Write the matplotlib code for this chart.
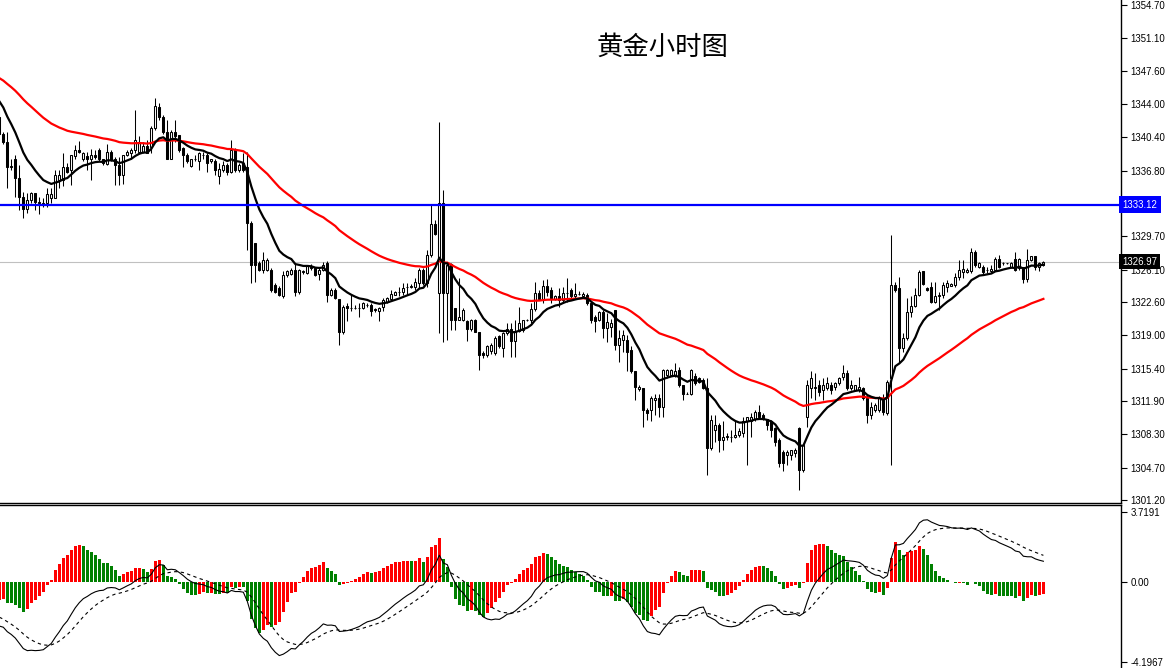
import numpy as np
import matplotlib
matplotlib.use("Agg")
import matplotlib.pyplot as plt

# ---------------- data (hourly gold candles) ----------------
opens = [1342.6,1340.8,1339.9,1337.2,1338.1,1336.0,1334.0,1332.7,1333.6,1334.35,1333.4,1333.35,1333.3,1333.8,1333.8,1335.8,1335.8,1337.2,1336.9,1338.4,
1339.0,1338.1,1338.4,1338.0,1338.5,1339.0,1338.1,1337.5,1338.85,1338.0,1337.4,1336.3,1338.5,1338.7,1339.0,1338.85,1338.85,1339.5,1339.4,1341.4,
1343.7,1342.6,1341.0,1338.1,1341.0,1340.65,1339.2,1338.5,1337.3,1338.0,1337.8,1338.5,1338.5,1337.8,1337.8,1336.2,1336.9,1337.4,1336.7,1339.1,
1336.9,1337.6,1337.2,1331.1,1328.95,1326.8,1326.1,1326.1,1326.1,1324.45,1324.1,1323.2,1325.5,1325.6,1326.1,1323.7,1325.8,1325.7,1326.5,1326.25,
1325.6,1326.1,1326.8,1323.4,1323.9,1322.9,1319.3,1322.2,1322.0,1322.0,1322.0,1322.0,1322.3,1322.3,1321.8,1321.6,1322.1,1322.65,1322.9,1323.4,
1323.7,1323.7,1324.25,1324.25,1324.25,1324.7,1326.1,1324.6,1327.7,1331.0,1323.55,1333.27,1323.55,1326.7,1321.9,1320.7,1320.7,1320.5,1319.7,1320.7,
1319.4,1317.07,1316.9,1317.25,1317.07,1318.9,1317.6,1319.2,1319.7,1318.4,1319.5,1319.6,1320.6,1320.7,1321.8,1323.6,1322.8,1324.3,1323.9,1322.9,
1323.2,1322.76,1323.6,1323.9,1323.25,1323.5,1323.25,1323.4,1322.5,1321.0,1320.7,1321.5,1319.75,1319.9,1321.7,1317.95,1318.5,1318.5,1317.4,1315.1,
1313.2,1313.3,1310.9,1310.9,1312.0,1312.2,1311.3,1314.7,1314.7,1314.6,1315.25,1313.6,1312.7,1312.7,1314.6,1314.35,1314.2,1313.3,1306.8,1308.8,
1309.3,1307.7,1308.05,1308.05,1308.05,1308.25,1308.4,1309.7,1309.7,1310.0,1310.75,1310.4,1309.9,1309.7,1309.0,1307.7,1306.4,1306.1,1306.1,1306.25,
1309.0,1304.45,1310.2,1313.3,1313.3,1313.6,1313.1,1313.3,1313.6,1313.45,1313.8,1314.5,1314.9,1313.3,1313.1,1313.1,1313.3,1312.2,1310.4,1310.9,
1310.9,1312.0,1310.6,1314.36,1324.4,1324.1,1317.6,1318.7,1321.56,1322.2,1323.36,1325.9,1324.1,1324.26,1322.64,1323.2,1323.36,1324.26,1324.37,1324.4,
1325.3,1325.8,1325.8,1325.9,1328.04,1326.4,1326.4,1326.06,1325.9,1326.06,1327.2,1326.8,1326.8,1326.4,1327.2,1326.24,1326.4,1325.05,1327.14,1327.57,
1326.4,1326.6]
highs = [1343.35,1341.0,1341.0,1338.0,1338.5,1337.4,1334.5,1334.35,1334.5,1334.4,1334.0,1333.8,1334.9,1334.9,1336.9,1336.9,1338.7,1337.6,1338.5,1339.6,
1340.0,1338.85,1338.85,1339.1,1339.0,1339.2,1338.1,1339.7,1339.0,1338.3,1338.3,1338.5,1339.0,1339.2,1343.35,1340.5,1339.9,1340.1,1341.6,1344.6,
1344.07,1342.8,1342.3,1341.2,1342.3,1340.65,1339.4,1338.7,1338.1,1338.5,1338.85,1338.85,1338.7,1338.1,1338.0,1337.6,1337.8,1337.6,1340.1,1339.2,
1337.6,1338.7,1338.85,1331.3,1329.0,1327.0,1328.05,1327.3,1326.25,1324.6,1324.3,1325.9,1326.1,1326.3,1326.8,1326.2,1326.1,1326.6,1326.7,1326.4,
1326.4,1326.9,1327.0,1324.1,1324.1,1322.9,1322.3,1322.5,1323.5,1322.3,1322.5,1322.6,1322.5,1322.5,1322.0,1322.1,1323.0,1323.1,1323.9,1323.8,
1324.25,1324.6,1324.7,1324.5,1325.2,1326.25,1326.3,1328.2,1333.1,1331.5,1342.1,1334.7,1326.8,1326.8,1322.0,1325.2,1321.9,1320.7,1320.8,1320.8,
1319.4,1317.3,1318.0,1318.2,1318.9,1319.0,1319.4,1320.3,1320.3,1320.7,1322.1,1320.7,1320.8,1322.5,1324.8,1323.9,1325.0,1325.06,1324.25,1323.4,
1324.1,1324.25,1325.2,1324.1,1324.6,1323.8,1323.7,1323.6,1322.65,1321.2,1321.6,1321.7,1321.4,1320.8,1321.7,1319.6,1319.6,1319.0,1317.8,1315.1,
1313.6,1313.3,1311.1,1312.4,1312.7,1312.7,1315.4,1315.4,1315.4,1316.0,1315.6,1313.6,1312.9,1315.4,1314.9,1314.5,1314.4,1314.35,1310.4,1310.4,
1309.5,1309.7,1308.4,1308.8,1309.7,1309.0,1310.2,1310.2,1310.6,1310.9,1311.5,1310.6,1310.0,1309.85,1309.1,1307.9,1306.6,1306.6,1306.6,1306.8,
1309.1,1307.3,1314.2,1315.1,1314.9,1314.2,1314.35,1314.5,1314.0,1314.0,1314.5,1315.8,1315.25,1314.2,1313.6,1314.5,1313.45,1312.55,1311.8,1311.65,
1312.4,1312.7,1314.2,1329.8,1324.8,1325.3,1319.2,1323.0,1323.2,1324.1,1326.06,1325.9,1324.2,1324.8,1324.8,1323.7,1324.8,1325.0,1324.7,1325.7,
1327.14,1327.14,1326.3,1328.4,1328.2,1326.96,1326.6,1326.4,1326.6,1327.5,1327.7,1326.96,1326.85,1326.9,1328.04,1327.3,1326.4,1328.3,1327.6,1327.57,
1326.96,1327.0]
lows = [1340.5,1339.7,1334.9,1336.9,1334.0,1332.55,1331.65,1332.2,1333.3,1332.55,1332.1,1332.9,1332.9,1333.3,1333.8,1334.9,1335.1,1336.5,1335.25,1338.1,
1338.7,1337.8,1336.9,1335.8,1338.0,1337.8,1337.4,1337.4,1337.8,1335.25,1335.25,1335.4,1338.4,1338.0,1338.7,1338.7,1338.7,1338.7,1338.7,1341.2,
1342.3,1340.8,1338.0,1338.0,1339.9,1338.85,1337.2,1337.6,1337.2,1337.8,1336.9,1338.1,1336.7,1337.6,1336.3,1335.4,1336.7,1336.3,1336.5,1336.7,
1336.7,1336.7,1328.2,1324.6,1324.8,1325.9,1325.7,1325.9,1323.7,1323.55,1323.2,1323.0,1325.3,1325.5,1323.2,1323.5,1325.6,1325.6,1326.1,1325.4,
1325.0,1325.9,1322.65,1323.2,1322.9,1318.0,1319.1,1320.5,1321.6,1321.8,1321.0,1321.8,1322.1,1321.1,1321.5,1320.5,1321.6,1322.5,1322.8,1323.3,
1323.2,1323.4,1323.4,1324.1,1323.9,1324.1,1324.4,1324.25,1327.5,1329.8,1319.2,1318.3,1318.5,1319.6,1319.6,1320.6,1320.5,1318.4,1319.5,1319.3,
1315.3,1316.5,1316.7,1317.0,1316.9,1317.6,1316.7,1319.05,1316.7,1316.7,1319.4,1319.4,1320.5,1320.3,1321.6,1322.8,1322.5,1323.2,1322.5,1322.8,
1322.1,1322.5,1322.65,1323.0,1323.0,1323.3,1323.1,1322.3,1320.3,1319.4,1320.5,1318.7,1318.3,1318.85,1317.4,1316.15,1317.2,1315.1,1314.9,1312.0,
1313.0,1309.1,1309.85,1309.7,1310.4,1310.2,1310.2,1314.35,1314.6,1314.5,1313.45,1312.0,1312.6,1312.55,1313.6,1313.8,1313.2,1303.9,1306.6,1307.5,
1306.4,1306.6,1307.7,1307.5,1307.9,1308.05,1308.05,1305.0,1308.05,1309.7,1310.0,1309.8,1308.8,1308.05,1307.0,1304.8,1304.3,1305.0,1305.5,1305.8,
1302.3,1304.2,1309.1,1312.2,1312.0,1312.4,1312.0,1313.1,1312.7,1313.1,1313.6,1314.2,1313.1,1313.1,1313.0,1312.9,1312.0,1309.5,1310.0,1310.75,
1310.7,1310.4,1310.4,1305.0,1323.7,1316.0,1317.2,1318.5,1321.0,1322.1,1323.2,1324.4,1323.8,1322.46,1322.46,1321.7,1323.0,1323.7,1324.3,1324.26,
1325.0,1325.16,1325.7,1325.7,1326.4,1326.24,1325.5,1325.7,1325.7,1325.9,1326.24,1326.6,1326.75,1326.3,1325.9,1326.1,1324.6,1324.8,1327.0,1326.06,
1325.9,1326.5]
closes = [1340.8,1339.9,1337.2,1337.3,1336.0,1334.0,1332.7,1333.6,1334.4,1333.45,1333.3,1333.1,1334.3,1334.3,1336.3,1336.3,1337.2,1336.7,1338.5,1339.0,
1338.85,1338.7,1338.0,1338.5,1338.3,1338.0,1337.6,1338.85,1337.9,1337.4,1336.3,1338.5,1338.85,1339.0,1340.1,1339.9,1339.5,1338.7,1341.4,1343.8,
1342.6,1341.0,1338.1,1341.0,1340.5,1339.0,1338.5,1337.8,1338.0,1338.1,1338.7,1338.5,1337.6,1338.0,1336.9,1337.0,1337.4,1336.7,1339.0,1336.9,
1337.4,1336.9,1331.1,1326.6,1326.6,1326.1,1327.15,1327.15,1323.9,1323.7,1323.4,1325.5,1325.9,1326.1,1323.7,1326.1,1325.9,1326.5,1326.25,1325.5,
1326.1,1326.6,1323.4,1323.9,1323.0,1319.3,1322.1,1321.9,1322.0,1322.0,1322.0,1322.5,1322.3,1321.6,1321.75,1321.9,1322.8,1323.0,1323.5,1323.7,
1323.7,1324.1,1324.25,1324.3,1324.8,1326.1,1324.6,1327.7,1331.0,1329.96,1333.27,1323.55,1326.6,1320.7,1320.7,1321.0,1321.75,1319.7,1320.7,1319.4,
1316.9,1316.9,1317.8,1318.0,1318.7,1317.8,1319.2,1319.7,1318.4,1319.5,1320.3,1320.6,1320.7,1321.8,1323.6,1322.9,1324.3,1323.7,1323.0,1323.25,
1322.76,1323.6,1323.6,1323.25,1323.5,1323.5,1323.5,1322.5,1320.7,1320.5,1321.5,1319.75,1320.4,1320.3,1317.95,1318.7,1319.0,1317.2,1315.1,1313.4,
1313.45,1310.9,1310.6,1312.2,1312.2,1311.3,1315.25,1315.25,1315.25,1315.1,1313.6,1312.7,1312.7,1315.25,1313.8,1314.0,1313.3,1306.8,1309.85,1309.3,
1307.7,1308.05,1308.1,1308.0,1308.25,1308.6,1309.7,1310.2,1310.2,1310.75,1310.2,1309.9,1309.3,1308.8,1307.5,1305.2,1305.2,1306.4,1306.6,1306.6,
1304.45,1307.15,1313.6,1314.35,1313.45,1312.9,1313.6,1313.8,1313.1,1313.8,1314.35,1314.9,1313.3,1313.6,1313.6,1313.45,1312.2,1310.4,1311.3,1311.5,
1312.2,1310.76,1314.0,1324.4,1323.9,1317.6,1318.7,1321.56,1322.2,1323.36,1325.8,1324.55,1323.9,1322.64,1323.2,1323.36,1324.4,1324.6,1324.55,1325.3,
1326.06,1326.13,1326.06,1328.04,1326.6,1326.8,1325.8,1326.06,1326.13,1327.2,1326.4,1326.8,1326.8,1326.8,1326.06,1327.2,1325.05,1327.14,1327.57,1326.4,
1326.8,1326.97]

hline_price = 1333.12
price_ticks = [1354.70, 1351.10, 1347.60, 1344.00, 1340.40, 1336.80, 1329.70,
               1326.10, 1322.60, 1319.00, 1315.40, 1311.90, 1308.30, 1304.70, 1301.20]
macd_ticks = [3.7191, 0.0, -4.1967]
macd_tick_labels = ["3.7191", "0.00", "-4.1967"]
title_text = "黄金小时图"

# indicator settings / starting values
ma_fast_span, ma_fast_start = 12, 1344.3
ma_slow_span, ma_slow_start = 50, 1346.8
ema12_start, ema26_start, dea_start = 1342.8, 1345.1, -1.83


def ema(values, span, start):
    a = 2.0 / (span + 1)
    out = [start]
    for v in values[1:]:
        out.append(out[-1] + a * (v - out[-1]))
    return np.array(out)


o = np.array(opens); h = np.array(highs); l = np.array(lows); c = np.array(closes)
n = len(c)
idx = np.arange(n)

ma_fast = ema(closes, ma_fast_span, ma_fast_start)
ma_slow = ema(closes, ma_slow_span, ma_slow_start)
dif = ema(closes, 12, ema12_start) - ema(closes, 26, ema26_start)
dea = ema(list(dif), 9, dea_start)
hist = 2 * (dif - dea)

W, H = 1166, 668
fig = plt.figure(figsize=(W / 100, H / 100), dpi=100)
fig.patch.set_facecolor("white")

px = lambda v: v / W
py = lambda v: v / H
ax = fig.add_axes([0, 1 - py(503), px(1121), py(503)])
ax2 = fig.add_axes([0, 0, px(1121), py(668 - 505)])

x0, x1 = 0.175, 280.4
ax.set_xlim(x0, x1)
ax2.set_xlim(x0, x1)
ax.set_ylim(1300.87, 1355.24)
ax2.set_ylim(-4.513, 4.088)

# candles
up = c >= o
ax.vlines(idx, l, h, color="black", linewidth=0.75, zorder=2)
body_lo = np.minimum(o, c)
body_h = np.abs(c - o)
ax.bar(idx[up], body_h[up], bottom=body_lo[up], width=0.55, color="white",
       edgecolor="black", linewidth=0.75, zorder=3)
ax.bar(idx[~up], body_h[~up], bottom=body_lo[~up], width=0.55, color="black",
       edgecolor="black", linewidth=0.75, zorder=3)

ax.plot(idx, ma_slow, color="#FF0000", linewidth=1.6, zorder=4)
ax.plot(idx, ma_fast, color="black", linewidth=1.6, zorder=5)

ax.axhline(closes[-1], color="#C0C0C0", linewidth=0.8, zorder=1)
ax.axhline(hline_price, color="#0000FF", linewidth=1.6, zorder=6)

ax.text(px(663), 1 - py(47), title_text, transform=fig.transFigure,
        ha="center", va="center", fontsize=19, family=["Noto Sans CJK SC", "DejaVu Sans"])

for a in (ax, ax2):
    a.set_xticks([])
    a.spines["left"].set_visible(False)
    a.yaxis.tick_right()
    a.tick_params(axis="y", direction="out", length=4, width=0.8, pad=3,
                  labelsize=6.9, colors="black")
ax.spines["top"].set_visible(False)
ax2.spines["bottom"].set_visible(False)
for s in ("right", "bottom"):
    ax.spines[s].set_linewidth(1.0)
ax2.spines["top"].set_linewidth(1.0)
ax2.spines["right"].set_linewidth(1.0)

ax.set_yticks(price_ticks)
ax.set_yticklabels([f"{v:.2f}" for v in price_ticks], family="Liberation Sans")

# price tags
trans = ax.get_yaxis_transform()
ax.text(1.0012, hline_price, f"{hline_price:.2f}", transform=trans, ha="left", va="center",
        fontsize=6.9, color="white", family="Liberation Sans", zorder=10, clip_on=False,
        bbox=dict(boxstyle="square,pad=0.35", facecolor="#0000FF", edgecolor="none"))
ax.text(1.0012, closes[-1], f"{closes[-1]:.2f}", transform=trans, ha="left", va="center",
        fontsize=6.9, color="white", family="Liberation Sans", zorder=10, clip_on=False,
        bbox=dict(boxstyle="square,pad=0.3", facecolor="black", edgecolor="none"))

# MACD panel
prev = np.concatenate([[hist[0]], hist[:-1]])
cols = np.where(hist >= prev, "#FF0000", "#008000")
ax2.bar(idx, hist, width=0.7, color=cols, linewidth=0, zorder=2)
ax2.plot(idx, dif, color="black", linewidth=0.8, zorder=3)
ax2.plot(idx, dea, color="black", linewidth=0.8, linestyle=(0, (3, 3)), zorder=3)
ax2.set_yticks(macd_ticks)
ax2.set_yticklabels(macd_tick_labels, family="Liberation Sans")

fig.savefig("out.png", dpi=100)
